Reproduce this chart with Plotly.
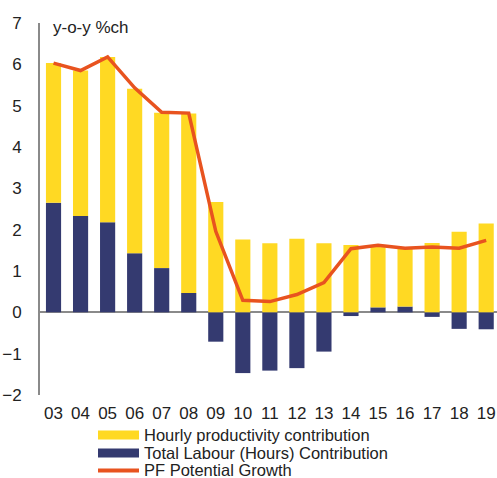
import plotly.graph_objects as go

years = ["03", "04", "05", "06", "07", "08", "09", "10", "11", "12",
         "13", "14", "15", "16", "17", "18", "19"]
productivity = [3.38, 3.52, 4.00, 3.98, 3.76, 4.34, 2.67, 1.76, 1.67, 1.78,
                1.67, 1.63, 1.50, 1.41, 1.68, 1.95, 2.15]
labour = [2.65, 2.33, 2.18, 1.43, 1.07, 0.47, -0.71, -1.47, -1.41, -1.35,
          -0.95, -0.09, 0.12, 0.14, -0.11, -0.40, -0.41]
potential = [6.03, 5.85, 6.18, 5.43, 4.84, 4.82, 1.96, 0.29, 0.26, 0.43,
             0.72, 1.54, 1.62, 1.55, 1.58, 1.55, 1.74]
y_ticks = [-2, -1, 0, 1, 2, 3, 4, 5, 6, 7]
legend_names = ["Hourly productivity contribution",
                "Total Labour (Hours) Contribution",
                "PF Potential Growth"]

YELLOW = "#FFD923"
NAVY = "#343A70"
ORANGE = "#E8531F"
GREY = "#8A8A8A"
TEXT = "#222222"
FONT = "Liberation Sans, Arial, sans-serif"
FS = 17
LEG_FS = 16.5

W, H = 497, 478
L, R, T, B = 40, 0, 23, 83
PW, PH = W - L - R, H - T - B

fig = go.Figure()
fig.add_trace(go.Bar(x=years, y=labour, name=legend_names[1],
                     marker=dict(color=NAVY, line=dict(width=0)), width=0.56))
fig.add_trace(go.Bar(x=years, y=productivity, name=legend_names[0],
                     marker=dict(color=YELLOW, line=dict(width=0)), width=0.56))
fig.add_trace(go.Scatter(x=years, y=potential, name=legend_names[2], mode="lines",
                         line=dict(color=ORANGE, width=3.5)))

def px_to_paper_x(px):
    return (px - L) / PW

def px_to_paper_y(py):
    return (H - B - py) / PH

shapes = []
annotations = []
rows = [(435, YELLOW, "rect"), (453, NAVY, "rect"), (469.5, ORANGE, "line")]
for (cy, col, kind), name in zip(rows, legend_names):
    if kind == "rect":
        shapes.append(dict(type="rect", xref="paper", yref="paper",
                           x0=px_to_paper_x(98), x1=px_to_paper_x(139),
                           y0=px_to_paper_y(cy - 4.5), y1=px_to_paper_y(cy + 4.5),
                           fillcolor=col, line=dict(width=0)))
    else:
        shapes.append(dict(type="line", xref="paper", yref="paper",
                           x0=px_to_paper_x(98), x1=px_to_paper_x(139),
                           y0=px_to_paper_y(cy + 1), y1=px_to_paper_y(cy + 1),
                           line=dict(color=col, width=4)))
    annotations.append(dict(text=name, xref="paper", yref="paper",
                            x=px_to_paper_x(142), y=px_to_paper_y(cy),
                            xanchor="left", yanchor="middle", showarrow=False,
                            font=dict(size=LEG_FS, color=TEXT, family=FONT)))

annotations.append(dict(text="y-o-y %ch", xref="paper", yref="paper",
                        x=px_to_paper_x(51), y=px_to_paper_y(28),
                        xanchor="left", yanchor="middle", showarrow=False,
                        font=dict(size=FS, color=TEXT, family=FONT)))

fig.update_layout(
    width=W, height=H,
    margin=dict(l=L, r=R, t=T, b=B, pad=0),
    barmode="relative",
    showlegend=False,
    plot_bgcolor="white", paper_bgcolor="white",
    font=dict(family=FONT, size=FS, color=TEXT),
    shapes=shapes,
    annotations=annotations,
    xaxis=dict(type="category", range=[-0.5, 16.4], showgrid=False,
               showline=False, zeroline=False, ticks="",
               ticklabelstandoff=6,
               tickfont=dict(size=FS, color=TEXT, family=FONT)),
    yaxis=dict(range=[-2, 7], tickvals=y_ticks, showgrid=False,
               showline=True, linecolor=GREY, linewidth=2,
               zeroline=True, zerolinecolor=GREY, zerolinewidth=2,
               ticks="", ticklabelstandoff=13, layer="above traces",
               tickfont=dict(size=FS, color=TEXT, family=FONT)),
)

fig.write_html("out.html",
               config={"displayModeBar": False},
               post_script="document.body.style.margin='0';"
                           "document.body.style.overflow='hidden';")
